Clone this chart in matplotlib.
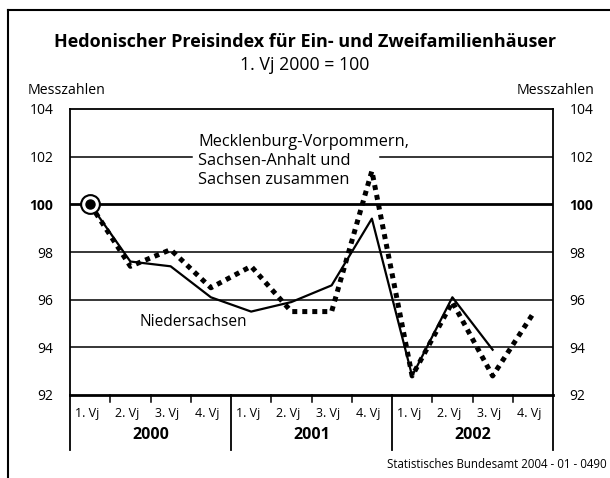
import matplotlib.pyplot as plt
import numpy as np

plt.rcParams['font.family'] = ['Open Sans', 'DejaVu Sans']

years = ['2000', '2001', '2002']
quarters = ['1. Vj', '2. Vj', '3. Vj', '4. Vj']
niedersachsen = [100.0, 97.6, 97.4, 96.1, 95.5, 95.9, 96.6, 99.4, 92.8, 96.1, 93.9]
ost = [100.0, 97.4, 98.1, 96.5, 97.4, 95.5, 95.5, 101.4, 92.8, 95.9, 92.8, 95.4]
yticks = [92, 94, 96, 98, 100, 102, 104]

W, H = 610, 478
fig = plt.figure(figsize=(W / 100, H / 100), dpi=100)
ax = fig.add_axes([70 / W, 1 - 395 / H, 483 / W, 286 / H])

n = len(years) * len(quarters)
x = np.arange(n)
ax.set_xlim(-0.5, n - 0.5)
ax.set_ylim(92, 104)

# grid lines; the 102 line is broken where the label sits
for v in [94, 96, 98]:
    ax.axhline(v, color='black', lw=1.1, zorder=1)
ax.axhline(102, xmax=(192 - 70) / 483, color='black', lw=1.1, zorder=1)
ax.axhline(102, xmin=(380 - 70) / 483, color='black', lw=1.1, zorder=1)
ax.axhline(100, color='black', lw=2, zorder=1)

ax.plot(x[:len(ost)], ost, color='black', lw=3.6, linestyle=(0, (1, 1)), zorder=3)
ax.plot(x[:len(niedersachsen)], niedersachsen, color='black', lw=1.6, zorder=4)
ax.plot(0, 100, 'o', ms=13.5, mfc='white', mec='black', mew=1.5, zorder=5, clip_on=False)
ax.plot(0, 100, 'o', ms=6.5, color='black', zorder=6, clip_on=False)

for s in ['left', 'right', 'top']:
    ax.spines[s].set_linewidth(1.3)
ax.spines['bottom'].set_linewidth(2)

ax.set_yticks(yticks)
ax.set_yticklabels([str(v) for v in yticks], fontsize=10)
ax.tick_params(axis='y', length=0, pad=12, labelleft=True, labelright=True)
for t in ax.yaxis.get_major_ticks():
    if t.label1.get_text() == '100':
        t.label1.set_fontweight('bold')
        t.label2.set_fontweight('bold')
ax.set_xticks([])

# quarter ticks and labels below the axis
trans = ax.get_xaxis_transform()
ax_h = 286.0
for i in range(n):
    ax.text(i - 0.08, -18 / ax_h, quarters[i % 4], transform=trans, ha='center', va='center', fontsize=9)
    if i % 4 != 0:
        ax.plot([i - 0.5, i - 0.5], [0, -7 / ax_h], transform=trans, color='black', lw=1.1, clip_on=False)
for k, yr in enumerate(years):
    ax.text(4 * k + 1.5, -40 / ax_h, yr, transform=trans, ha='center', va='center',
            fontsize=11.5, fontweight='bold')
for k in range(len(years) + 1):
    ax.plot([4 * k - 0.5, 4 * k - 0.5], [0, -55 / ax_h], transform=trans, color='black', lw=1.3, clip_on=False)

ax.text(2.68, 101.8, 'Mecklenburg-Vorpommern,\nSachsen-Anhalt und\nSachsen zusammen', ha='left', va='center',
        fontsize=11.8, linespacing=1.25, zorder=2)
ax.text(2.56, 95.05, 'Niedersachsen', ha='center', va='center', fontsize=11.2, zorder=2)

fig.text(305 / W, 1 - 42 / H, 'Hedonischer Preisindex für Ein- und Zweifamilienhäuser', ha='center', va='center',
         fontsize=13, fontweight='bold')
fig.text(305 / W, 1 - 65 / H, '1. Vj 2000 = 100', ha='center', va='center', fontsize=12.8)
fig.text(28 / W, 1 - 90 / H, 'Messzahlen', ha='left', va='center', fontsize=10.2)
fig.text(594 / W, 1 - 90 / H, 'Messzahlen', ha='right', va='center', fontsize=10.2)
fig.text(607 / W, 1 - 465 / H, 'Statistisches Bundesamt 2004 - 01 - 0490', ha='right', va='center', fontsize=8.3)

fig.add_artist(plt.Line2D([8 / W, 8 / W], [0, 1 - 10 / H], transform=fig.transFigure, color='black', lw=1.5))
fig.add_artist(plt.Line2D([8 / W, 1], [1 - 10 / H, 1 - 10 / H], transform=fig.transFigure, color='black', lw=1.5))

fig.savefig('out.png', dpi=100)
